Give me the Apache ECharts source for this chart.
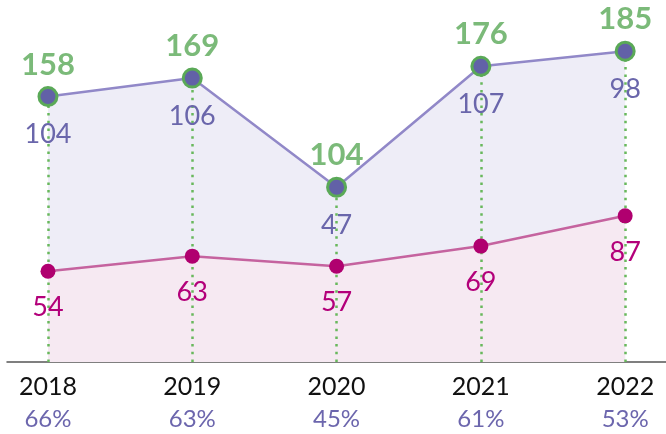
<!DOCTYPE html>
<html>
<head>
<meta charset="utf-8">
<script src="https://cdn.jsdelivr.net/npm/echarts@6/dist/echarts.min.js"></script>
<style>
html,body{margin:0;padding:0;background:#fff;}
#c{width:666px;height:434px;}
</style>
</head>
<body>
<div id="c"></div>
<script>
var years = ['2018', '2019', '2020', '2021', '2022'];
var shares = ['66%', '63%', '45%', '61%', '53%'];
var magentaValues = [54, 63, 57, 69, 87];
var purpleValues = [104, 106, 47, 107, 98];
var totals = [158, 169, 104, 176, 185];

var FONT = 'Lato, "Noto Sans", sans-serif';
var idx = years.map(function (_, i) { return i; });
function pairs(arr) { return arr.map(function (v, i) { return [i, v]; }); }

var chart = echarts.init(document.getElementById('c'), null, { renderer: 'canvas' });
chart.setOption({
  animation: false,
  backgroundColor: '#ffffff',
  grid: { left: 7, right: 0, top: 26, bottom: 72, containLabel: false },
  xAxis: {
    type: 'value',
    min: -0.284,
    max: 4.283,
    splitLine: { show: false },
    axisTick: { show: false },
    axisLine: { show: true, onZero: false, lineStyle: { color: '#555555', width: 1.5 } },
    axisLabel: {
      customValues: idx,
      margin: 9,
      showMinLabel: true,
      showMaxLabel: true,
      formatter: function (v) {
        var i = Math.round(v);
        return '{y|' + years[i] + '}\n{p|' + shares[i] + '}';
      },
      rich: {
        y: { fontFamily: FONT, fontSize: 25, lineHeight: 32, color: '#111111' },
        p: { fontFamily: FONT, fontSize: 24, lineHeight: 32, color: '#6c66ad' }
      }
    }
  },
  yAxis: {
    type: 'value',
    min: 0,
    max: 200,
    show: false,
    splitLine: { show: false }
  },
  series: [
    {
      name: 'purpleArea', type: 'line', z: 1,
      data: pairs(totals), symbol: 'none', silent: true,
      lineStyle: { width: 0 },
      areaStyle: { color: '#eeedf7', opacity: 1 }
    },
    {
      name: 'magentaArea', type: 'line', z: 1,
      data: pairs(magentaValues), symbol: 'none', silent: true,
      lineStyle: { width: 0 },
      areaStyle: { color: '#f6e9f2', opacity: 1 }
    },
    {
      name: 'totals', type: 'scatter', z: 2,
      data: pairs(totals), symbolSize: 1,
      itemStyle: { color: 'rgba(0,0,0,0)' },
      label: {
        show: true, position: 'inside', offset: [0, -32],
        fontFamily: FONT, fontSize: 31, fontWeight: 'bold', color: '#5aa957',
        formatter: function (p) { return totals[p.dataIndex]; }
      },
      markLine: {
        silent: true, symbol: ['none', 'none'], z: 2,
        label: { show: false },
        lineStyle: { color: '#68b85c', width: 2.5, type: [2.5, 5.2] },
        data: totals.map(function (t, i) { return [{ coord: [i, 0] }, { coord: [i, t] }]; })
      }
    },
    {
      name: 'magenta', type: 'line', z: 3,
      data: pairs(magentaValues),
      symbol: 'circle', symbolSize: 15,
      itemStyle: { color: '#b0006f' },
      lineStyle: { color: '#c5639f', width: 2.5 },
      label: {
        show: true, position: 'inside', offset: [0, 36],
        fontFamily: FONT, fontSize: 27, color: '#b3007a',
        formatter: function (p) { return magentaValues[p.dataIndex]; }
      }
    },
    {
      name: 'purple', type: 'line', z: 3,
      data: pairs(totals),
      symbol: 'circle', symbolSize: 18,
      itemStyle: { color: '#6261a7', borderColor: '#5aa957', borderWidth: 3 },
      lineStyle: { color: '#9188c8', width: 2.5 },
      label: {
        show: true, position: 'inside', offset: [0, 38],
        fontFamily: FONT, fontSize: 27, color: '#6a66ab',
        formatter: function (p) { return purpleValues[p.dataIndex]; }
      }
    }
  ]
});
</script>
</body>
</html>
